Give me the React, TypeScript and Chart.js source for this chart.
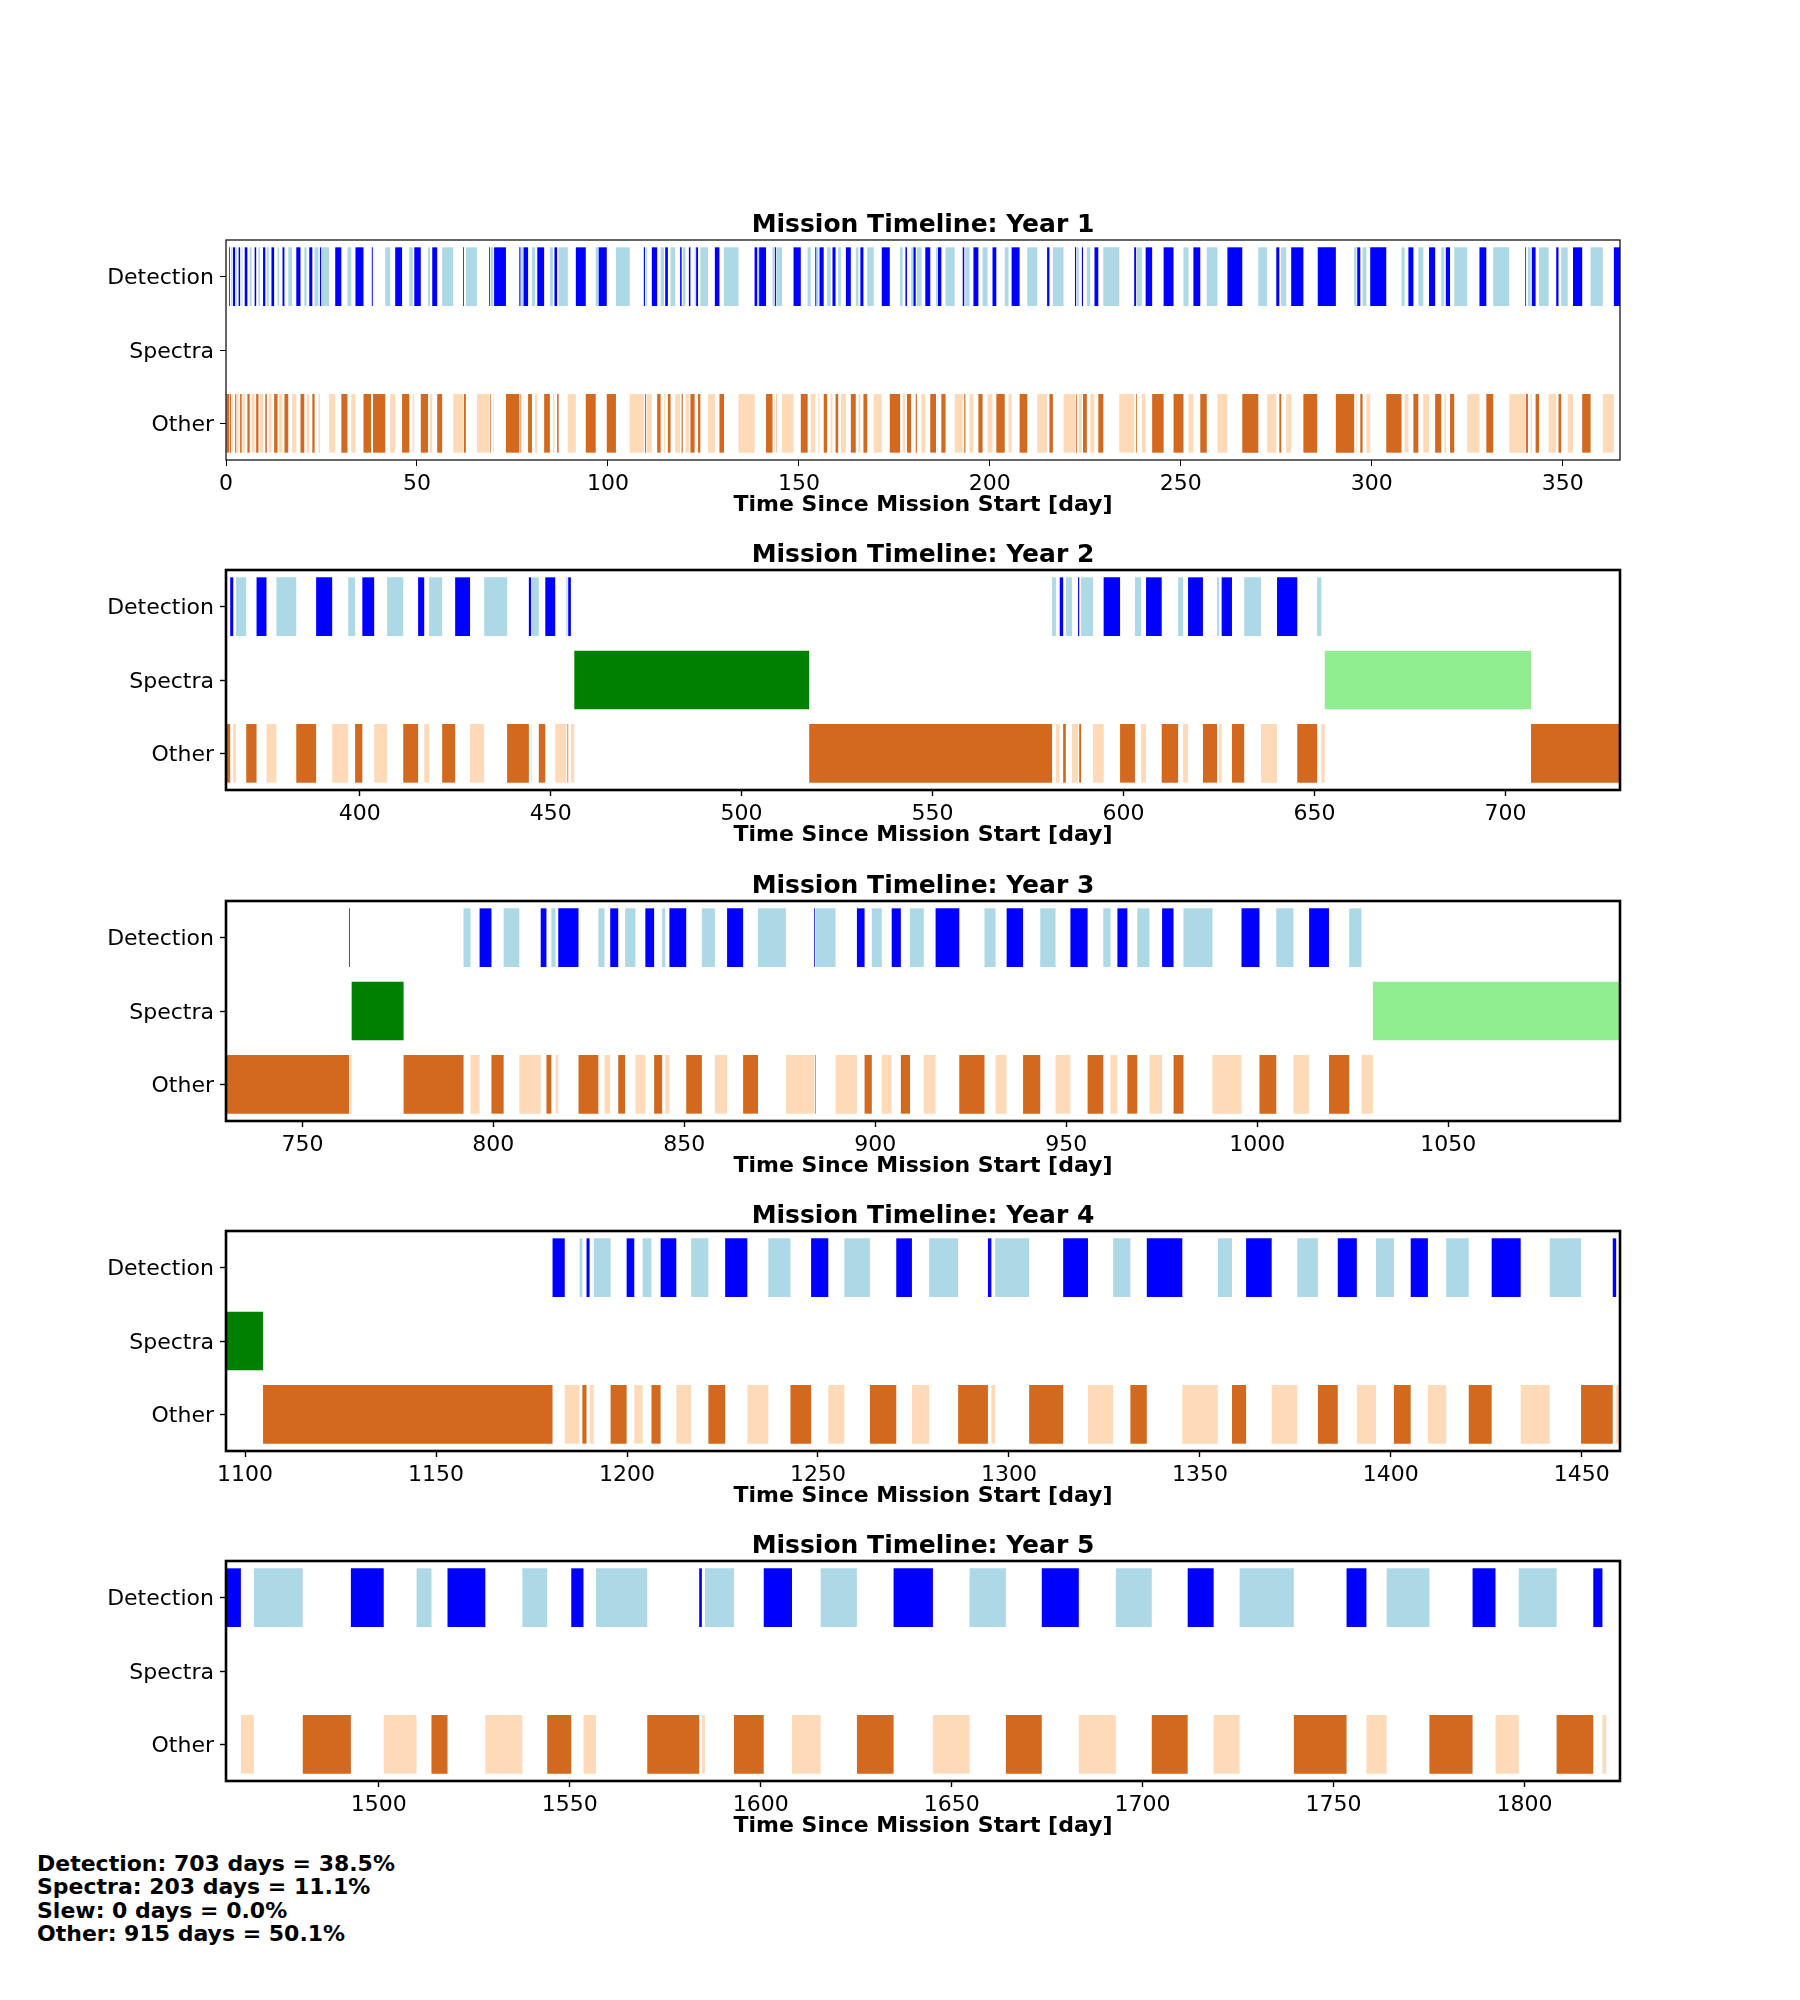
import React, { useEffect, useRef } from 'react';
import { Chart, registerables } from 'chart.js';

Chart.register(...registerables);

const FONT = "'DejaVu Sans', 'Liberation Sans', sans-serif";

const rowLabels = ['Detection', 'Spectra', 'Other'];
const yearTitles = [
  'Mission Timeline: Year 1',
  'Mission Timeline: Year 2',
  'Mission Timeline: Year 3',
  'Mission Timeline: Year 4',
  'Mission Timeline: Year 5',
];
const yearStarts = [0, 365, 730, 1095, 1460];
const yearEnds = [365, 730, 1095, 1460, 1825];
const axisTitle = 'Time Since Mission Start [day]';

const year1Ticks = [0, 50, 100, 150, 200, 250, 300, 350];
const year2Ticks = [400, 450, 500, 550, 600, 650, 700];
const year3Ticks = [750, 800, 850, 900, 950, 1000, 1050];
const year4Ticks = [1100, 1150, 1200, 1250, 1300, 1350, 1400, 1450];
const year5Ticks = [1500, 1550, 1600, 1650, 1700, 1750, 1800];

// kind codes: D/d detection (dark/light), S/s spectra, O/o other; each entry = [kind, end day]
const year1Segments: [string, number][] = [
  ['O',0.8],['D',1.0],['O',1.3],['d',1.5],['o',1.8],['D',2.4],['O',2.7],['d',2.9],['o',3.3],['D',3.7],
  ['O',4.1],['d',4.3],['o',4.9],['D',5.6],['O',6.2],['d',6.7],['o',7.5],['D',7.9],['O',8.5],['d',8.9],
  ['o',9.7],['D',10.3],['O',10.7],['d',11.2],['o',11.9],['D',12.6],['O',13.5],['d',13.9],['o',14.8],['D',15.3],
  ['O',16.3],['d',17.3],['o',18.4],['D',19.5],['O',20.5],['d',21.1],['o',21.8],['D',22.6],['O',23.2],['d',24.2],
  ['o',24.6],['D',24.9],['d',27.0],['o',28.6],['D',30.2],['O',31.8],['d',32.8],['o',33.9],['D',36.0],['O',38.0],
  ['d',38.3],['D',38.5],['O',41.7],['d',43.0],['o',44.3],['D',46.1],['O',48.0],['d',48.9],['o',49.3],['D',51.0],
  ['O',52.9],['d',53.4],['o',54.0],['D',55.3],['O',56.6],['d',59.5],['o',62.1],['D',62.3],['O',62.8],['d',65.7],
  ['o',68.9],['D',69.1],['O',69.3],['d',70.0],['o',70.2],['D',73.3],['O',76.8],['D',77.1],['O',77.3],['d',77.8],
  ['o',77.9],['D',79.1],['O',80.1],['d',80.9],['o',81.5],['D',83.3],['O',84.8],['d',85.6],['o',86.0],['D',86.7],
  ['O',87.1],['d',89.5],['o',91.6],['D',94.2],['O',96.8],['d',97.6],['D',99.7],['O',102.1],['d',105.7],['o',109.4],
  ['D',109.7],['O',110.0],['d',110.2],['o',111.5],['D',112.9],['O',113.8],['d',114.7],['o',115.0],['D',115.7],['O',116.4],
  ['d',117.6],['o',118.9],['D',119.3],['O',119.6],['d',120.3],['o',121.2],['D',121.6],['O',122.7],['d',123.0],['o',123.1],
  ['D',123.6],['O',124.2],['d',126.2],['o',128.0],['D',129.2],['O',130.4],['d',134.2],['o',138.4],['D',139.1],['d',139.6],
  ['D',141.4],['O',143.1],['d',143.5],['o',143.7],['D',144.0],['O',144.1],['d',145.6],['o',148.6],['D',150.5],['O',152.3],
  ['d',153.1],['o',154.3],['D',154.6],['d',155.1],['o',155.4],['D',156.5],['O',157.4],['d',158.3],['o',158.8],['D',159.6],
  ['O',160.3],['d',161.0],['o',162.3],['D',163.6],['O',164.9],['d',165.6],['o',166.1],['D',166.9],['O',167.9],['d',169.6],
  ['o',171.7],['D',173.8],['O',176.5],['d',177.2],['o',177.9],['D',178.3],['O',179.4],['d',179.9],['o',180.0],['D',180.6],
  ['O',180.9],['d',182.1],['o',183.1],['D',184.4],['O',185.9],['d',186.3],['o',186.4],['D',187.3],['O',188.4],['d',190.8],
  ['o',192.9],['D',193.3],['O',193.6],['d',194.7],['o',195.7],['D',197.0],['O',198.1],['d',199.4],['o',200.7],['D',201.7],
  ['O',203.9],['d',204.9],['o',205.7],['D',207.8],['O',209.8],['d',212.4],['o',215.0],['D',215.6],['O',216.5],['d',219.3],
  ['o',222.3],['D',222.6],['O',222.8],['d',223.3],['o',224.1],['D',224.4],['O',225.4],['d',226.3],['o',227.4],['D',228.4],
  ['O',229.7],['d',233.9],['o',237.8],['D',238.3],['O',238.5],['d',239.8],['o',240.8],['D',242.5],['O',245.5],['D',248.1],
  ['O',250.7],['d',252.0],['o',253.3],['D',255.1],['O',256.8],['d',259.6],['o',262.2],['D',266.1],['O',270.3],['d',272.6],
  ['o',275.0],['D',275.8],['O',276.3],['d',277.6],['o',278.9],['D',282.1],['O',285.7],['d',285.9],['D',290.6],['O',295.4],
  ['d',296.0],['o',296.2],['D',297.0],['O',297.6],['d',298.6],['o',299.6],['D',303.8],['O',307.8],['d',308.6],['o',309.6],
  ['D',310.9],['O',312.2],['d',313.5],['o',315.0],['D',316.6],['O',318.2],['d',319.0],['o',319.4],['D',320.5],['O',321.6],
  ['d',325.0],['o',328.2],['D',330.0],['O',331.8],['d',336.0],['o',340.2],['D',340.4],['O',340.9],['d',341.6],['o',341.9],
  ['D',342.9],['O',343.8],['d',346.3],['o',348.3],['D',348.9],['O',349.6],['d',351.3],['o',352.7],['D',355.1],['O',357.3],
  ['d',360.5],['o',363.4],['D',365.0],
];

const year2Segments: [string, number][] = [
  ['O',366.1],['D',366.9],['o',367.6],['d',370.3],['O',373.0],['D',375.6],['o',378.2],['d',383.4],['O',388.6],['D',392.8],
  ['o',397.0],['d',398.8],['O',400.7],['D',403.8],['o',407.2],['d',411.4],['O',415.3],['D',416.9],['o',418.2],['d',421.6],
  ['O',425.0],['D',428.9],['o',432.6],['d',438.6],['O',444.3],['D',444.9],['o',445.1],['d',446.9],['O',448.6],['D',451.2],
  ['o',454.1],['d',454.4],['O',454.6],['D',455.3],['o',456.2],['S',517.7],['O',581.3],['d',582.3],['o',583.3],['D',584.2],
  ['O',584.9],['d',586.5],['o',588.1],['D',588.4],['O',588.9],['d',592.0],['o',594.8],['D',599.1],['O',603.0],['d',604.6],
  ['o',605.9],['D',610.0],['O',614.3],['d',615.6],['o',616.9],['D',620.8],['O',624.5],['d',625.0],['o',625.7],['D',628.4],
  ['O',631.6],['d',636.0],['o',640.2],['D',645.5],['O',650.7],['d',651.8],['o',652.7],['s',706.7],['O',730.0],
];

const year3Segments: [string, number][] = [
  ['O',762.2],['D',762.4],['o',762.9],['S',776.5],['O',792.2],['d',794.0],['o',796.4],['D',799.5],['O',802.7],['d',806.8],
  ['o',812.4],['D',813.9],['O',815.2],['d',816.3],['o',817.0],['D',822.3],['O',827.5],['d',829.1],['o',830.6],['D',832.7],
  ['O',834.5],['d',837.2],['o',839.8],['D',842.1],['O',844.2],['d',845.0],['o',846.1],['D',850.5],['O',854.6],['d',858.0],
  ['o',861.2],['D',865.4],['O',869.3],['d',876.6],['o',884.0],['D',884.2],['O',884.4],['d',889.6],['o',895.2],['D',897.2],
  ['O',899.1],['d',901.7],['o',904.3],['D',906.7],['O',909.1],['d',912.7],['o',915.8],['D',922.0],['O',928.6],['d',931.5],
  ['o',934.4],['D',938.7],['O',943.2],['d',947.2],['o',951.1],['D',955.6],['O',959.7],['d',961.6],['o',963.4],['D',966.0],
  ['O',968.6],['d',971.8],['o',975.1],['D',978.1],['O',980.7],['d',988.3],['o',995.9],['D',1000.6],['O',1005.0],['d',1009.5],
  ['o',1013.6],['D',1018.8],['O',1024.1],['d',1027.3],['o',1030.3],['s',1095.0],
];

const year4Segments: [string, number][] = [
  ['S',1104.7],['O',1180.5],['D',1183.7],['o',1187.6],['d',1188.3],['O',1189.4],['D',1190.2],['o',1191.3],['d',1195.7],['O',1199.9],
  ['D',1201.9],['o',1204.1],['d',1206.4],['O',1208.8],['D',1212.9],['o',1216.8],['d',1221.3],['O',1225.7],['D',1231.5],['o',1237.0],
  ['d',1242.8],['O',1248.2],['D',1252.7],['o',1256.9],['d',1263.6],['O',1270.5],['D',1274.6],['o',1279.1],['d',1286.7],['O',1294.5],
  ['D',1295.4],['o',1296.4],['d',1305.3],['O',1314.2],['D',1320.7],['o',1327.3],['d',1331.8],['O',1336.1],['D',1345.4],['o',1354.7],
  ['d',1358.4],['O',1362.1],['D',1368.8],['o',1375.5],['d',1380.9],['O',1386.1],['D',1391.1],['o',1396.1],['d',1400.8],['O',1405.2],
  ['D',1409.7],['o',1414.5],['d',1420.4],['O',1426.4],['D',1434.0],['o',1441.6],['d',1449.8],['O',1458.1],['D',1459.0],['o',1460.0],
];

const year5Segments: [string, number][] = [
  ['D',1463.9],['o',1467.3],['d',1480.1],['O',1492.7],['D',1501.3],['o',1509.9],['d',1513.8],['O',1518.0],['D',1527.9],['o',1537.6],
  ['d',1544.1],['O',1550.4],['D',1553.6],['o',1556.9],['d',1570.3],['O',1583.9],['D',1584.6],['o',1585.4],['d',1593.0],['O',1600.8],
  ['D',1608.2],['o',1615.7],['d',1625.2],['O',1634.8],['D',1645.1],['o',1654.7],['d',1664.2],['O',1673.6],['D',1683.3],['o',1693.0],
  ['d',1702.4],['O',1711.8],['D',1718.6],['o',1725.4],['d',1739.6],['O',1753.4],['D',1758.6],['o',1763.9],['d',1775.1],['O',1786.4],
  ['D',1792.4],['o',1798.5],['d',1808.4],['O',1818.0],['D',1820.4],['o',1821.4],
];

const summaryLines = [
  'Detection: 703 days = 38.5%',
  'Spectra: 203 days = 11.1%',
  'Slew: 0 days = 0.0%',
  'Other: 915 days = 50.1%',
];

const yearSegments = [year1Segments, year2Segments, year3Segments, year4Segments, year5Segments];
const yearTicks = [year1Ticks, year2Ticks, year3Ticks, year4Ticks, year5Ticks];

const kindColors: Record<string, string> = {
  D: '#0000ff', d: '#add8e6',
  S: '#008000', s: '#90ee90',
  O: '#d2691e', o: '#ffdab9',
};
const kindRows: Record<string, string> = {
  D: 'Detection', d: 'Detection', S: 'Spectra', s: 'Spectra', O: 'Other', o: 'Other',
};

// layout (pixels)
const panelAxisTops = [240, 570, 901, 1231, 1561];
const CANVAS_W = 1800;
const CANVAS_H = 335;
const TOP_SPACE = 50;

function Panel({ index }: { index: number }) {
  const ref = useRef<HTMLCanvasElement | null>(null);
  useEffect(() => {
    const canvas = ref.current;
    if (!canvas) return;
    const segs = yearSegments[index];
    let prev = yearStarts[index];
    const data: any[] = [];
    const colors: string[] = [];
    for (const [k, end] of segs) {
      data.push({ x: [prev, end], y: kindRows[k] });
      colors.push(kindColors[k]);
      prev = end;
    }
    const frameW = index === 0 ? 1.2 : 2.6;
    const tickW = index === 0 ? 1 : 1.4;
    const framePlugin = {
      id: 'frame' + index,
      afterDatasetsDraw(chart: any) {
        const { ctx, chartArea: a } = chart;
        ctx.save();
        ctx.strokeStyle = '#000';
        ctx.lineWidth = frameW;
        ctx.strokeRect(a.left, a.top, a.right - a.left, a.bottom - a.top);
        ctx.restore();
      },
    };
    const ticks = yearTicks[index];
    const chart = new Chart(canvas, {
      type: 'bar',
      data: {
        labels: rowLabels,
        datasets: [
          {
            data,
            backgroundColor: colors,
            borderWidth: 0,
            categoryPercentage: 0.8,
            barPercentage: 1.0,
          } as any,
        ],
      },
      options: {
        indexAxis: 'y',
        animation: false,
        responsive: false,
        devicePixelRatio: 1,
        layout: { padding: { left: 0, right: CANVAS_W - 1620, top: 0, bottom: 0 } },
        plugins: {
          legend: { display: false },
          tooltip: { enabled: false },
          title: {
            display: true,
            fullSize: false,
            align: 'center',
            text: yearTitles[index],
            color: '#000',
            font: { family: FONT, size: 25, weight: 'bold', lineHeight: 1.2 },
            padding: { top: 20, bottom: 0 },
          },
        },
        scales: {
          x: {
            type: 'linear',
            min: yearStarts[index],
            max: yearEnds[index],
            beginAtZero: false,
            afterBuildTicks: (s: any) => {
              s.ticks = ticks.map((v) => ({ value: v }));
            },
            afterFit: (s: any) => {
              s.height = 65;
            },
            ticks: {
              color: '#000',
              font: { family: FONT, size: 22 },
              padding: 5,
              maxRotation: 0,
              autoSkip: false,
              callback: (v: any) => String(v),
            },
            grid: {
              drawOnChartArea: false,
              drawTicks: true,
              tickLength: 6,
              tickWidth: tickW,
              tickColor: '#000',
            },
            border: { display: false },
            title: {
              display: true,
              text: axisTitle,
              color: '#000',
              font: { family: FONT, size: 22, weight: 'bold', lineHeight: 1.2 },
              padding: { top: 0, bottom: 7 },
            },
          },
          y: {
            type: 'category',
            offset: true,
            afterFit: (s: any) => {
              s.width = 226;
            },
            ticks: {
              color: '#000',
              font: { family: FONT, size: 22 },
              padding: 6,
              labelOffset: 2,
            },
            grid: {
              offset: false,
              drawOnChartArea: false,
              drawTicks: true,
              tickLength: 6,
              tickWidth: tickW,
              tickColor: '#000',
            },
            border: { display: false },
          },
        },
      } as any,
      plugins: [framePlugin],
    });
    return () => chart.destroy();
  }, [index]);

  return (
    <canvas
      ref={ref}
      width={CANVAS_W}
      height={CANVAS_H}
      style={{
        position: 'absolute',
        left: 0,
        top: panelAxisTops[index] - TOP_SPACE,
        width: CANVAS_W,
        height: CANVAS_H,
      }}
    />
  );
}

export default function App() {
  return (
    <div
      style={{
        position: 'absolute',
        left: 0,
        top: 0,
        width: 1800,
        height: 2000,
        background: '#fff',
      }}
    >
      {[0, 1, 2, 3, 4].map((i) => (
        <Panel key={i} index={i} />
      ))}
      <div
        style={{
          position: 'absolute',
          left: 37,
          top: 1852,
          fontFamily: FONT,
          fontWeight: 'bold',
          fontSize: 22,
          lineHeight: '23.4px',
          color: '#000',
          whiteSpace: 'pre',
        }}
      >
        {summaryLines.map((l, i) => (
          <div key={i}>{l}</div>
        ))}
      </div>
    </div>
  );
}
